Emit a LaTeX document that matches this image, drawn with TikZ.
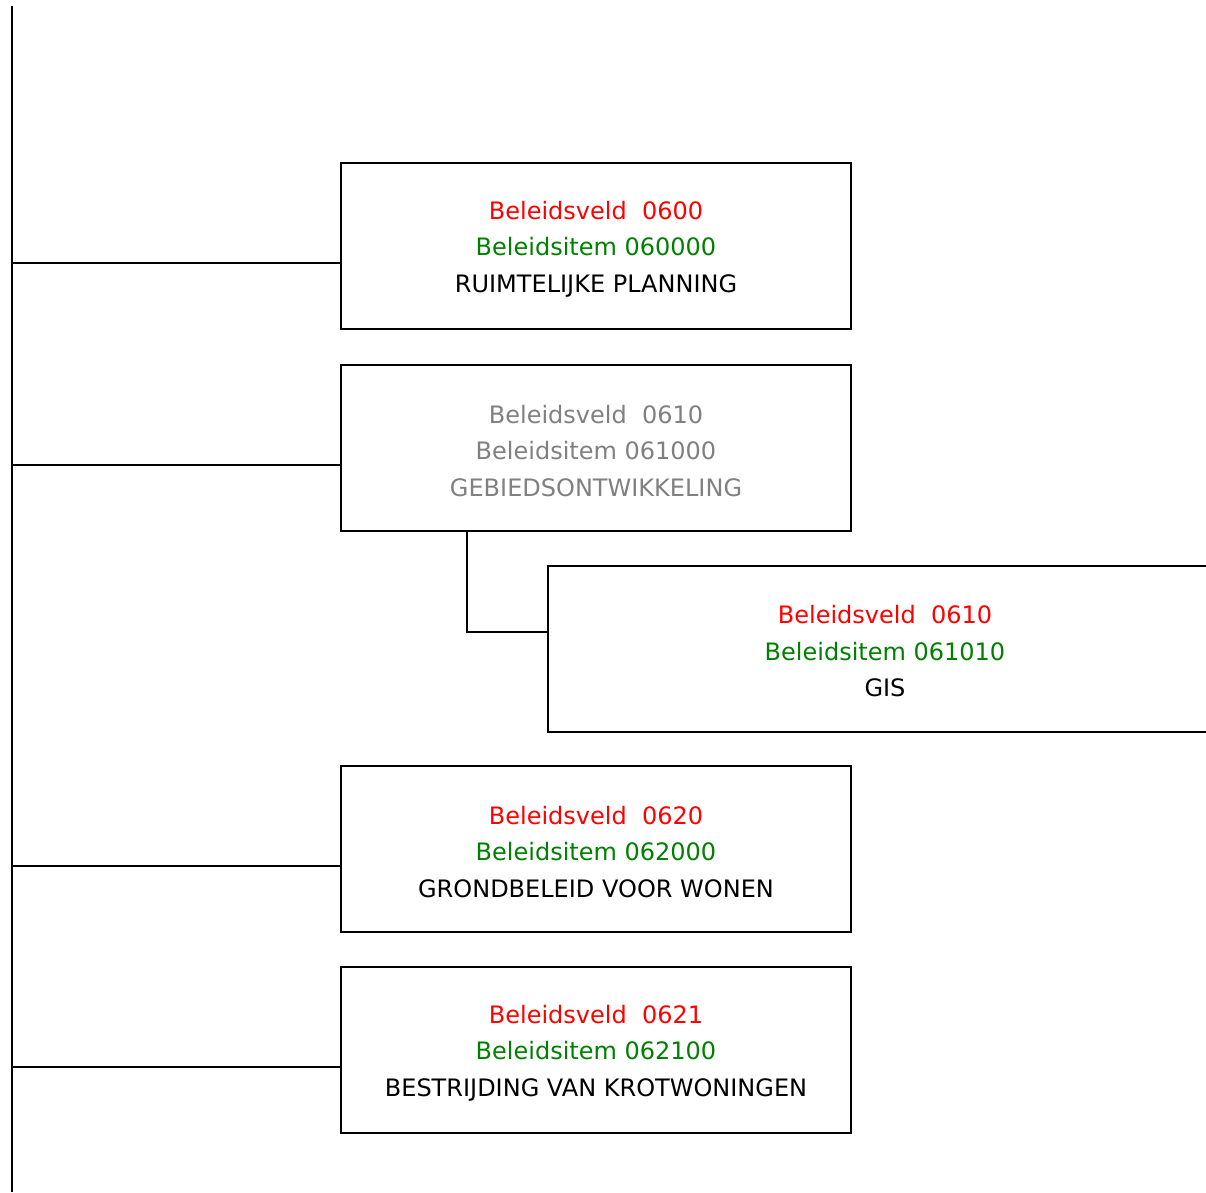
\documentclass[tikz,border=0pt]{standalone}
\usepackage{fontspec}
\setmainfont{DejaVu Sans}
\usetikzlibrary{positioning}

\definecolor{veldred}{RGB}{255,0,0}
\definecolor{itemgreen}{RGB}{0,128,0}
\definecolor{vaaggray}{RGB}{128,128,128}

\newcommand{\hoog}{\rule{0pt}{24pt}}

\tikzset{
	blok/.style={draw, line width=2pt, minimum width=510pt, minimum height=166pt, align=center, font=\fontsize{24}{36.5}\selectfont, inner sep=0pt},
	tak/.style={line width=2pt}
}

\begin{document}
\begin{tikzpicture}[x=1pt, y=-1pt]
	% Canvas
	\useasboundingbox (0,0) rectangle (1206,1192);
	\clip (0,0) rectangle (1206,1192);
	
	% Trunk on the left
	\coordinate (top) at (12,6);
	\coordinate (bottom) at (12,1192);
	\draw[tak] (top) -- (bottom);
	
	% Boxes
	\node[blok] (rp) at (596,246) {\hoog\textcolor{veldred}{Beleidsveld\ \ 0600}\\ \textcolor{itemgreen}{Beleidsitem 060000}\\ RUIMTELIJKE PLANNING};
	\node[blok, text=vaaggray] (go) at (596,448) {\hoog Beleidsveld\ \ 0610\\ Beleidsitem 061000\\ GEBIEDSONTWIKKELING};
	\node[blok, minimum width=674pt] (gis) at (885,648.5) {\hoog\textcolor{veldred}{Beleidsveld\ \ 0610}\\ \textcolor{itemgreen}{Beleidsitem 061010}\\ GIS};
	\node[blok] (gw) at (596,849) {\hoog\textcolor{veldred}{Beleidsveld\ \ 0620}\\ \textcolor{itemgreen}{Beleidsitem 062000}\\ GRONDBELEID VOOR WONEN};
	\node[blok] (bk) at (596,1050) {\hoog\textcolor{veldred}{Beleidsveld\ \ 0621}\\ \textcolor{itemgreen}{Beleidsitem 062100}\\ BESTRIJDING VAN KROTWONINGEN};
	
	% Branches from the trunk
	\foreach \b in {rp,go,gw,bk}{
		\coordinate (\b-in) at ([yshift=-17pt]\b.west);
		\draw[tak] (top |- \b-in) -- (\b-in);
	}
	
	% Sub-branch to GIS
	\coordinate (sub) at ([xshift=127pt]go.south west);
	\coordinate (gis-in) at ([yshift=16.5pt]gis.west);
	\draw[tak] (sub) |- (gis-in);
\end{tikzpicture}
\end{document}
